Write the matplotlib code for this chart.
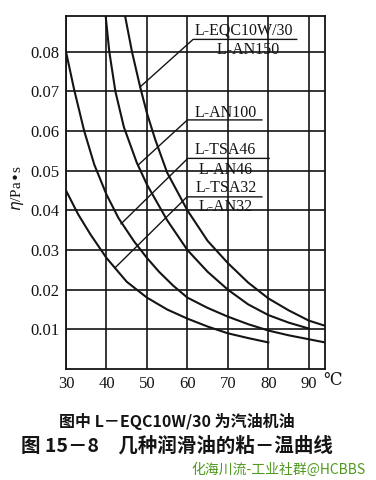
import matplotlib
matplotlib.use("Agg")
import matplotlib.pyplot as plt

plt.rcParams['font.family'] = ['Liberation Serif', 'DejaVu Serif', 'Noto Sans CJK SC']

# ---- data (temperature in deg C, viscosity in Pa*s) ----
t_32 = [30, 33, 36, 40, 45, 50, 55, 60, 65, 70, 75, 80]
eta_32 = [0.045, 0.039, 0.034, 0.028, 0.022, 0.018, 0.0150, 0.0127, 0.0107, 0.0090, 0.0078, 0.0067]

t_46 = [30, 32, 34.5, 37, 40, 43, 46.8, 50, 53, 56.5, 60, 65, 70, 75, 80, 85, 90, 94]
eta_46 = [0.080, 0.0705, 0.060, 0.0515, 0.0440, 0.038, 0.0322, 0.028, 0.0245, 0.021, 0.018,
          0.0154, 0.0132, 0.0113, 0.0097, 0.0085, 0.0075, 0.0067]

t_100 = [39.8, 40.7, 42.2, 44.3, 47.5, 50, 55, 60, 65, 70, 75, 80, 85, 90]
eta_100 = [0.089, 0.080, 0.070, 0.061, 0.052, 0.0465, 0.0375, 0.030, 0.0245, 0.020, 0.0163,
           0.0136, 0.0117, 0.0102]

t_150 = [44.6, 46.3, 48.3, 50, 52, 55, 60, 65, 70, 75, 80, 85, 90, 94]
eta_150 = [0.089, 0.080, 0.0712, 0.0645, 0.058, 0.0495, 0.040, 0.0323, 0.0267, 0.0218, 0.0178,
           0.0148, 0.0122, 0.0109]

x_ticks = [30, 40, 50, 60, 70, 80, 90]
y_ticks = [0.01, 0.02, 0.03, 0.04, 0.05, 0.06, 0.07, 0.08]
y_tick_labels = ["0.01", "0.02", "0.03", "0.04", "0.05", "0.06", "0.07", "0.08"]

fig = plt.figure(figsize=(3.76, 4.80), dpi=100)
ax = fig.add_axes([66/376, 1-369/480, (325-66)/376, (369-16)/480])
ax.set_xlim(30, 94)
ax.set_ylim(0, 0.089)

ink = '#141414'
for s in ax.spines.values():
    s.set_color(ink)
    s.set_linewidth(1.3)

ax.set_xticks(x_ticks)
ax.set_xticklabels([str(v) for v in x_ticks], fontsize=12)
ax.set_yticks(y_ticks)
ax.set_yticklabels(y_tick_labels, fontsize=12)
ax.tick_params(length=0, pad=5, colors=ink)
ax.grid(True, color=ink, linewidth=1.2)
ax.set_axisbelow(True)

for t, e in [(t_32, eta_32), (t_46, eta_46), (t_100, eta_100), (t_150, eta_150)]:
    ax.plot(t, e, color=ink, linewidth=1.5, clip_on=True)

# leader lines and labels
lw_lead = 1.0
fs_lab = 11.5
def leader(p_curve, p_bend, x_end):
    ax.plot([p_curve[0], p_bend[0], x_end], [p_curve[1], p_bend[1], p_bend[1]],
            color=ink, linewidth=lw_lead)

def label(x, y, s):
    # y is the baseline of the last line
    ax.text(x, y, s, fontsize=fs_lab, ha='center', va='baseline', color=ink,
            multialignment='center', linespacing=1.3)

leader((48.3, 0.0711), (61.4, 0.0831), 87.0)
label(74.0, 0.0795, "L-EQC10W/30\n  L-AN150")

leader((47.8, 0.0514), (60.0, 0.0628), 78.4)
label(69.4, 0.0636, "L-AN100")

leader((43.6, 0.0366), (60.1, 0.0531), 80.2)
label(69.4, 0.0492, "L-TSA46\nL-AN46")

leader((42.1, 0.0255), (59.9, 0.0434), 78.4)
label(69.5, 0.0398, "L-TSA32\nL-AN32")

# axis unit labels
fig.text(333/376, 1-381/480, "℃", fontsize=12, ha='center', va='center', color=ink)
fig.text(18/376, 1-188/480, "$\\eta$/Pa•s", fontsize=11, rotation=90,
         ha='center', va='center', color=ink)

# captions
fig.text(177/376, 1-421/480, "图中 L－EQC10W/30 为汽油机油", fontsize=11.5,
         ha='center', va='center', color=ink, fontweight='bold',
         family=['Noto Sans CJK SC', 'DejaVu Sans'])
fig.text(177/376, 1-446/480, "图 15－8　几种润滑油的粘－温曲线", fontsize=14,
         ha='center', va='center', color=ink, fontweight='bold',
         family=['Noto Sans CJK SC', 'DejaVu Sans'])
fig.text(366/376, 1-470/480, "化海川流-工业社群@HCBBS", fontsize=10,
         ha='right', va='center', color='#4f9a1e',
         family=['Noto Sans CJK SC', 'DejaVu Sans'])

fig.savefig("out.png", dpi=100, facecolor='white')
